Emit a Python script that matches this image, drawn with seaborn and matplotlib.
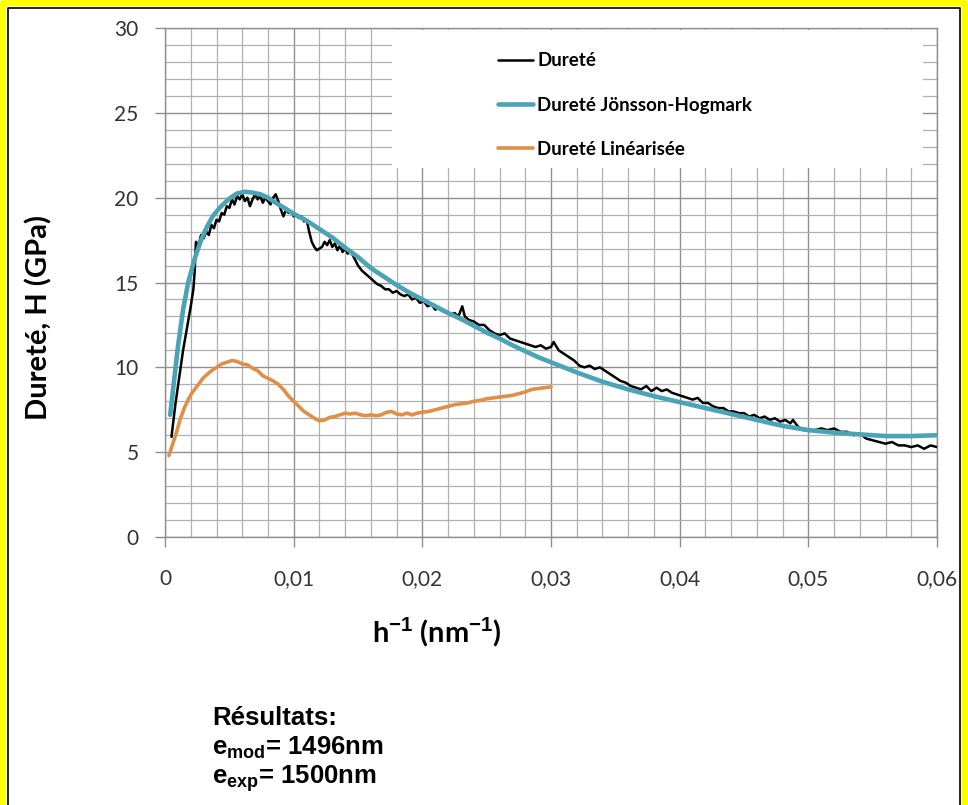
import seaborn as sns
import pandas as pd
import matplotlib.pyplot as plt
from matplotlib.patches import Rectangle
from matplotlib.lines import Line2D
from matplotlib.ticker import MultipleLocator

##############################################
# data
durete_h = [0.0005, 0.0008, 0.0011, 0.0014, 0.0017, 0.0020, 0.0022, 0.0023, 0.0024, 0.0026,
            0.0028, 0.0030, 0.0032, 0.0034, 0.0036, 0.0038, 0.0040, 0.0042, 0.0044, 0.0046,
            0.0048, 0.0050, 0.0052, 0.0054, 0.0056, 0.0058, 0.0060, 0.0062, 0.0064, 0.0066,
            0.0068, 0.0070, 0.0072, 0.0074, 0.0076, 0.0078, 0.0080, 0.0082, 0.0084, 0.0086,
            0.0088, 0.0090, 0.0092, 0.0094, 0.0096, 0.0098, 0.0100, 0.0102, 0.0104, 0.0106,
            0.0108, 0.0110, 0.0112, 0.0114, 0.0116, 0.0118, 0.0120, 0.0122, 0.0124, 0.0126,
            0.0128, 0.0130, 0.0132, 0.0134, 0.0136, 0.0138, 0.0140, 0.0142, 0.0144, 0.0146,
            0.0148, 0.0150, 0.0153, 0.0156, 0.0159, 0.0162, 0.0165, 0.0168, 0.0171, 0.0174,
            0.0177, 0.0180, 0.0183, 0.0186, 0.0189, 0.0192, 0.0195, 0.0198, 0.0201, 0.0204,
            0.0207, 0.0210, 0.0213, 0.0216, 0.0219, 0.0222, 0.0225, 0.0228, 0.0231, 0.0233,
            0.0236, 0.0240, 0.0244, 0.0248, 0.0252, 0.0256, 0.0260, 0.0264, 0.0268, 0.0272,
            0.0276, 0.0280, 0.0284, 0.0288, 0.0292, 0.0296, 0.0300, 0.0302, 0.0306, 0.0310,
            0.0314, 0.0318, 0.0322, 0.0326, 0.0330, 0.0334, 0.0338, 0.0342, 0.0346, 0.0350,
            0.0354, 0.0358, 0.0362, 0.0366, 0.0370, 0.0374, 0.0378, 0.0382, 0.0386, 0.0390,
            0.0394, 0.0398, 0.0402, 0.0406, 0.0410, 0.0414, 0.0418, 0.0422, 0.0426, 0.0430,
            0.0434, 0.0438, 0.0442, 0.0446, 0.0450, 0.0454, 0.0458, 0.0462, 0.0466, 0.0470,
            0.0474, 0.0478, 0.0482, 0.0486, 0.0488, 0.0492, 0.0496, 0.0500, 0.0505, 0.0510,
            0.0515, 0.0520, 0.0525, 0.0530, 0.0535, 0.0540, 0.0545, 0.0550, 0.0555, 0.0560,
            0.0565, 0.0570, 0.0575, 0.0580, 0.0585, 0.0590, 0.0595, 0.0600]
durete_H = [5.9, 7.8, 9.4, 11.0, 12.3, 13.6, 14.6, 15.6, 17.4, 17.2,
            17.8, 17.6, 18.0, 17.8, 18.4, 18.2, 18.7, 18.6, 19.1, 19.0,
            19.5, 19.4, 19.9, 19.6, 20.1, 19.9, 20.2, 19.8, 20.0, 19.5,
            19.9, 20.2, 19.9, 20.1, 19.7, 20.0, 19.8, 19.6, 20.0, 20.2,
            19.8, 19.3, 18.9, 19.3, 19.1, 19.2, 18.9, 19.0, 18.8, 18.9,
            18.6, 18.7, 18.0, 17.4, 17.1, 16.9, 17.0, 17.1, 17.4, 17.2,
            17.5, 17.1, 17.3, 16.9, 17.2, 16.8, 17.0, 16.7, 16.9, 16.6,
            16.3, 16.0, 15.7, 15.5, 15.3, 15.1, 14.9, 14.8, 14.6, 14.6,
            14.4, 14.5, 14.3, 14.2, 14.3, 14.0, 14.1, 13.8, 13.9, 13.6,
            13.7, 13.4, 13.5, 13.3, 13.3, 13.1, 13.2, 13.0, 13.6, 13.0,
            12.8, 12.7, 12.5, 12.5, 12.2, 12.0, 11.9, 12.0, 11.7, 11.6,
            11.5, 11.4, 11.3, 11.2, 11.3, 11.1, 11.2, 11.5, 11.0, 10.8,
            10.6, 10.4, 10.1, 10.0, 10.1, 9.9, 10.0, 9.8, 9.6, 9.4,
            9.2, 9.1, 8.9, 8.8, 8.7, 8.9, 8.6, 8.8, 8.6, 8.7,
            8.5, 8.4, 8.3, 8.2, 8.1, 8.2, 7.9, 7.9, 7.7, 7.6,
            7.6, 7.4, 7.4, 7.3, 7.3, 7.1, 7.2, 7.0, 7.1, 6.9,
            7.0, 6.8, 6.9, 6.7, 6.9, 6.5, 6.3, 6.3, 6.3, 6.4,
            6.3, 6.4, 6.2, 6.2, 6.0, 6.1, 5.8, 5.7, 5.6, 5.5,
            5.6, 5.4, 5.4, 5.3, 5.4, 5.2, 5.4, 5.3]

jh_h = [0.0004, 0.0007, 0.0010, 0.0014, 0.0018, 0.0023, 0.0028, 0.0032, 0.0037, 0.0043,
        0.0050, 0.0056, 0.0062, 0.0068, 0.0074, 0.0080, 0.0086, 0.0092, 0.0100, 0.0110,
        0.0120, 0.0130, 0.0140, 0.0150, 0.0160, 0.0170, 0.0180, 0.0190, 0.0200, 0.0210,
        0.0220, 0.0230, 0.0240, 0.0250, 0.0260, 0.0270, 0.0280, 0.0290, 0.0300, 0.0320,
        0.0340, 0.0360, 0.0380, 0.0400, 0.0420, 0.0440, 0.0460, 0.0480, 0.0500, 0.0520,
        0.0540, 0.0560, 0.0580, 0.0600]
jh_H = [7.2, 9.2, 11.2, 13.4, 15.0, 16.4, 17.5, 18.2, 18.9, 19.45,
        19.95, 20.25, 20.35, 20.3, 20.2, 20.0, 19.7, 19.43, 19.05, 18.65,
        18.15, 17.65, 17.05, 16.5, 15.85, 15.35, 14.85, 14.4, 14.0, 13.6,
        13.2, 12.85, 12.45, 12.05, 11.7, 11.3, 10.95, 10.6, 10.3, 9.7,
        9.15, 8.7, 8.3, 7.95, 7.6, 7.25, 6.9, 6.55, 6.3, 6.15,
        6.05, 5.95, 5.95, 6.0]

lin_h = [0.0003, 0.0006, 0.0009, 0.0012, 0.0015, 0.0018, 0.0021, 0.0024, 0.0027, 0.0030,
         0.0033, 0.0036, 0.0040, 0.0044, 0.0048, 0.0052, 0.0056, 0.0060, 0.0064, 0.0068,
         0.0072, 0.0076, 0.0080, 0.0084, 0.0088, 0.0092, 0.0096, 0.0100, 0.0104, 0.0108,
         0.0112, 0.0116, 0.0120, 0.0124, 0.0128, 0.0132, 0.0136, 0.0140, 0.0144, 0.0148,
         0.0152, 0.0156, 0.0160, 0.0164, 0.0168, 0.0172, 0.0176, 0.0180, 0.0184, 0.0188,
         0.0192, 0.0196, 0.0200, 0.0205, 0.0210, 0.0215, 0.0220, 0.0225, 0.0230, 0.0235,
         0.0240, 0.0245, 0.0250, 0.0255, 0.0260, 0.0265, 0.0270, 0.0275, 0.0280, 0.0285,
         0.0290, 0.0295, 0.0300]
lin_H = [4.8, 5.5, 6.2, 7.0, 7.6, 8.1, 8.5, 8.8, 9.1, 9.4,
         9.6, 9.8, 10.0, 10.2, 10.3, 10.4, 10.35, 10.2, 10.15, 9.95,
         9.8, 9.5, 9.35, 9.2, 9.0, 8.7, 8.3, 8.0, 7.7, 7.4,
         7.2, 7.0, 6.85, 6.9, 7.05, 7.1, 7.2, 7.3, 7.25, 7.3,
         7.2, 7.15, 7.2, 7.15, 7.2, 7.35, 7.4, 7.25, 7.2, 7.3,
         7.2, 7.3, 7.35, 7.4, 7.5, 7.6, 7.7, 7.8, 7.85, 7.9,
         8.0, 8.05, 8.15, 8.2, 8.25, 8.3, 8.35, 8.45, 8.55, 8.7,
         8.75, 8.8, 8.85]

x_ticks = [0, 0.01, 0.02, 0.03, 0.04, 0.05, 0.06]
x_tick_labels = ["0", "0,01", "0,02", "0,03", "0,04", "0,05", "0,06"]
y_ticks = [0, 5, 10, 15, 20, 25, 30]
series_names = ["Dureté", "Dureté Jönsson-Hogmark", "Dureté Linéarisée"]
results = ["Résultats:", r"e$_{\mathbf{mod}}$= 1496nm", r"e$_{\mathbf{exp}}$= 1500nm"]

colors = ["black", "#4BA3B6", "#DE9048"]
widths = [1.8, 3.3, 2.6]

##############################################
sns.set_theme(style="white")
plt.rcParams["font.family"] = ["Lato", "DejaVu Sans"]
plt.rcParams["mathtext.fontset"] = "custom"
plt.rcParams["mathtext.rm"] = "Liberation Sans"
plt.rcParams["mathtext.bf"] = "Liberation Sans:bold"

fig = plt.figure(figsize=(9.68, 8.05), dpi=100)
ax = fig.add_axes([0.1705, 0.3329, 0.7975, 0.6323])

frames = [
    pd.DataFrame({"h": durete_h, "H": durete_H}),
    pd.DataFrame({"h": jh_h, "H": jh_H}),
    pd.DataFrame({"h": lin_h, "H": lin_H}),
]
for df, name, c, w in zip(frames, series_names, colors, widths):
    sns.lineplot(data=df, x="h", y="H", ax=ax, color=c, linewidth=w,
                 label=name, errorbar=None, sort=False, zorder=3)

ax.set_xlim(0, 0.06)
ax.set_ylim(0, 30)
ax.set_xticks(x_ticks)
ax.set_xticklabels(x_tick_labels)
ax.set_yticks(y_ticks)
ax.xaxis.set_minor_locator(MultipleLocator(0.002))
ax.yaxis.set_minor_locator(MultipleLocator(1))

# grid, drawn under everything
ax.set_axisbelow(True)
ax.grid(which="major", color="#8f8f8f", linewidth=1.0)
ax.grid(which="minor", color="#b0b0b0", linewidth=0.9)
for s in ax.spines.values():
    s.set_color("#8f8f8f")
    s.set_linewidth(1.0)

ax.tick_params(axis="both", which="major", labelsize=15, colors="#8f8f8f",
               labelcolor="#333333", direction="out", width=1)
ax.tick_params(axis="x", which="major", length=7, pad=16, bottom=True)
ax.tick_params(axis="y", which="major", length=7, pad=12, left=True)
ax.tick_params(which="minor", length=0)

# labels
ax.set_xlabel(r"h$^{\mathbf{-1}}$ (nm$^{\mathbf{-1}}$)", fontsize=21,
              fontweight="bold", color="black")
ax.xaxis.label.set_va("center")
ax.xaxis.set_label_coords(0.352, -0.187)
ax.set_ylabel("Dureté, H (GPa)", fontsize=21, fontweight="bold", color="black")
ax.yaxis.label.set_va("center")
ax.yaxis.set_label_coords(-0.164, 0.432)

# white box behind the legend hides the grid
ax.add_patch(Rectangle((0.294, 0.725), 0.688, 0.271, transform=ax.transAxes,
                       facecolor="white", edgecolor="none", zorder=1))
leg = ax.legend(loc="upper left", bbox_to_anchor=(0.431, 0.952), frameon=False,
                borderpad=0, borderaxespad=0, handlelength=1.9, handletextpad=0.2,
                labelspacing=1.45, prop={"size": 13.5, "weight": "bold"})
for t in leg.get_texts():
    t.set_color("black")

# results block under the chart
for i, txt in enumerate(results):
    fig.text(212 / 968, 1 - (718 + 30 * i) / 805, txt, family="Liberation Sans",
             fontweight="bold", fontsize=18.5, ha="left", va="center", color="black")

# yellow / black frame around the picture (open at the bottom)
W, Hh = 968, 805
def px(x, y):
    return x / W, 1 - y / Hh
xs, ys = zip(px(3, 840), px(3, 3), px(965, 3), px(965, 840))
fig.add_artist(Line2D(xs, ys, color="#FFFF00", linewidth=4.5, transform=fig.transFigure))
xs, ys = zip(px(8, 840), px(8, 8), px(960, 8), px(960, 840))
fig.add_artist(Line2D(xs, ys, color="black", linewidth=1.2, transform=fig.transFigure))

plt.savefig("out.png", dpi=100)
plt.close()
